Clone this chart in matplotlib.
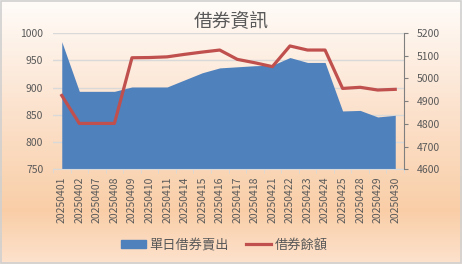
import numpy as np
import matplotlib.pyplot as plt
from matplotlib.colors import LinearSegmentedColormap
from matplotlib.patches import Rectangle
from matplotlib.lines import Line2D
from matplotlib.patches import Patch

plt.rcParams['font.family'] = ['Noto Sans CJK TC', 'DejaVu Sans']

# ── Data ──────────────────────────────────────────────────────────────────────
dates = ['20250401', '20250402', '20250407', '20250408', '20250409', '20250410',
         '20250411', '20250414', '20250415', '20250416', '20250417', '20250418',
         '20250421', '20250422', '20250423', '20250424', '20250425', '20250428',
         '20250429', '20250430']
daily_short = [984, 893, 893, 893, 901, 901, 901, 914, 927, 936, 938, 940,
               941, 955, 946, 946, 857, 858, 846, 849]
balance = [4925, 4802, 4802, 4802, 5091, 5092, 5095, 5106, 5116, 5125, 5084, 5069,
           5052, 5143, 5125, 5125, 4956, 4961, 4949, 4952]

title = '借券資訊'
label_area = '單日借券賣出'
label_line = '借券餘額'

blue = '#4F81BD'
red = '#C0504D'
txt = '#595959'

# ── Figure + gradient background ─────────────────────────────────────────────
fig = plt.figure(figsize=(4.62, 2.64), dpi=100)
bg = fig.add_axes([0, 0, 1, 1], zorder=-10)
cmap = LinearSegmentedColormap.from_list(
    'peach', [(0.0, '#FDE2CD'), (0.2, '#F9CEA7'), (0.6, '#FCE3CF'), (1.0, '#FFFCF9')])
grad = np.linspace(0, 1, 256).reshape(-1, 1)
bg.imshow(grad, aspect='auto', cmap=cmap, origin='lower', extent=[0, 1, 0, 1])
bg.add_patch(Rectangle((0.002, 0.004), 0.996, 0.992, fill=False, ec='#D0D0D0', lw=1.2,
                       transform=bg.transAxes))
bg.set_axis_off()

# ── Main axes ────────────────────────────────────────────────────────────────
ax = fig.add_axes([0.1147, 0.3587, 0.7598, 0.5163])
ax.set_facecolor('none')
x = np.arange(len(dates))
ax.fill_between(x, daily_short, 750, color=blue, lw=0, zorder=2)
ax.set_xlim(-0.5, len(dates) - 0.5)
ax.set_ylim(750, 1000)
ax.set_yticks(np.arange(750, 1001, 50))
ax.yaxis.grid(True, color='#D9D9D9', lw=1)
ax.set_axisbelow(True)
ax.tick_params(axis='y', length=0, labelsize=7.5, labelcolor=txt, pad=7)
ax.set_xticks(x)
ax.set_xticklabels(dates, rotation=90, fontsize=7.5, color=txt)
ax.set_xticks(np.arange(-0.5, len(dates)), minor=True)
ax.tick_params(axis='x', which='major', length=0, pad=5)
ax.tick_params(axis='x', which='minor', length=3, color='#D9D9D9')
for s in ['left', 'right', 'top']:
    ax.spines[s].set_visible(False)
ax.spines['bottom'].set_color('#D9D9D9')

ax2 = ax.twinx()
ax2.plot(x, balance, color=red, lw=2.3, zorder=3)
ax2.set_ylim(4600, 5200)
ax2.set_yticks(np.arange(4600, 5201, 100))
ax2.tick_params(axis='y', length=3, color='#7F7F7F', labelsize=7.5, labelcolor=txt, pad=6)
for s in ['left', 'top', 'bottom']:
    ax2.spines[s].set_visible(False)
ax2.spines['right'].set_color('#7F7F7F')

fig.text(0.5, 0.917, title, ha='center', va='center', fontsize=13.5, color=txt)

handles = [Patch(color=blue, label=label_area),
           Line2D([0], [0], color=red, lw=2.3, label=label_line)]
fig.legend(handles=handles, loc='center', bbox_to_anchor=(0.486, 0.072), ncol=2,
           frameon=False, fontsize=9.5, labelcolor=txt, handlelength=1.9,
           handleheight=0.55, handletextpad=0.25, columnspacing=1.3)

fig.savefig('out.png', dpi=100)
